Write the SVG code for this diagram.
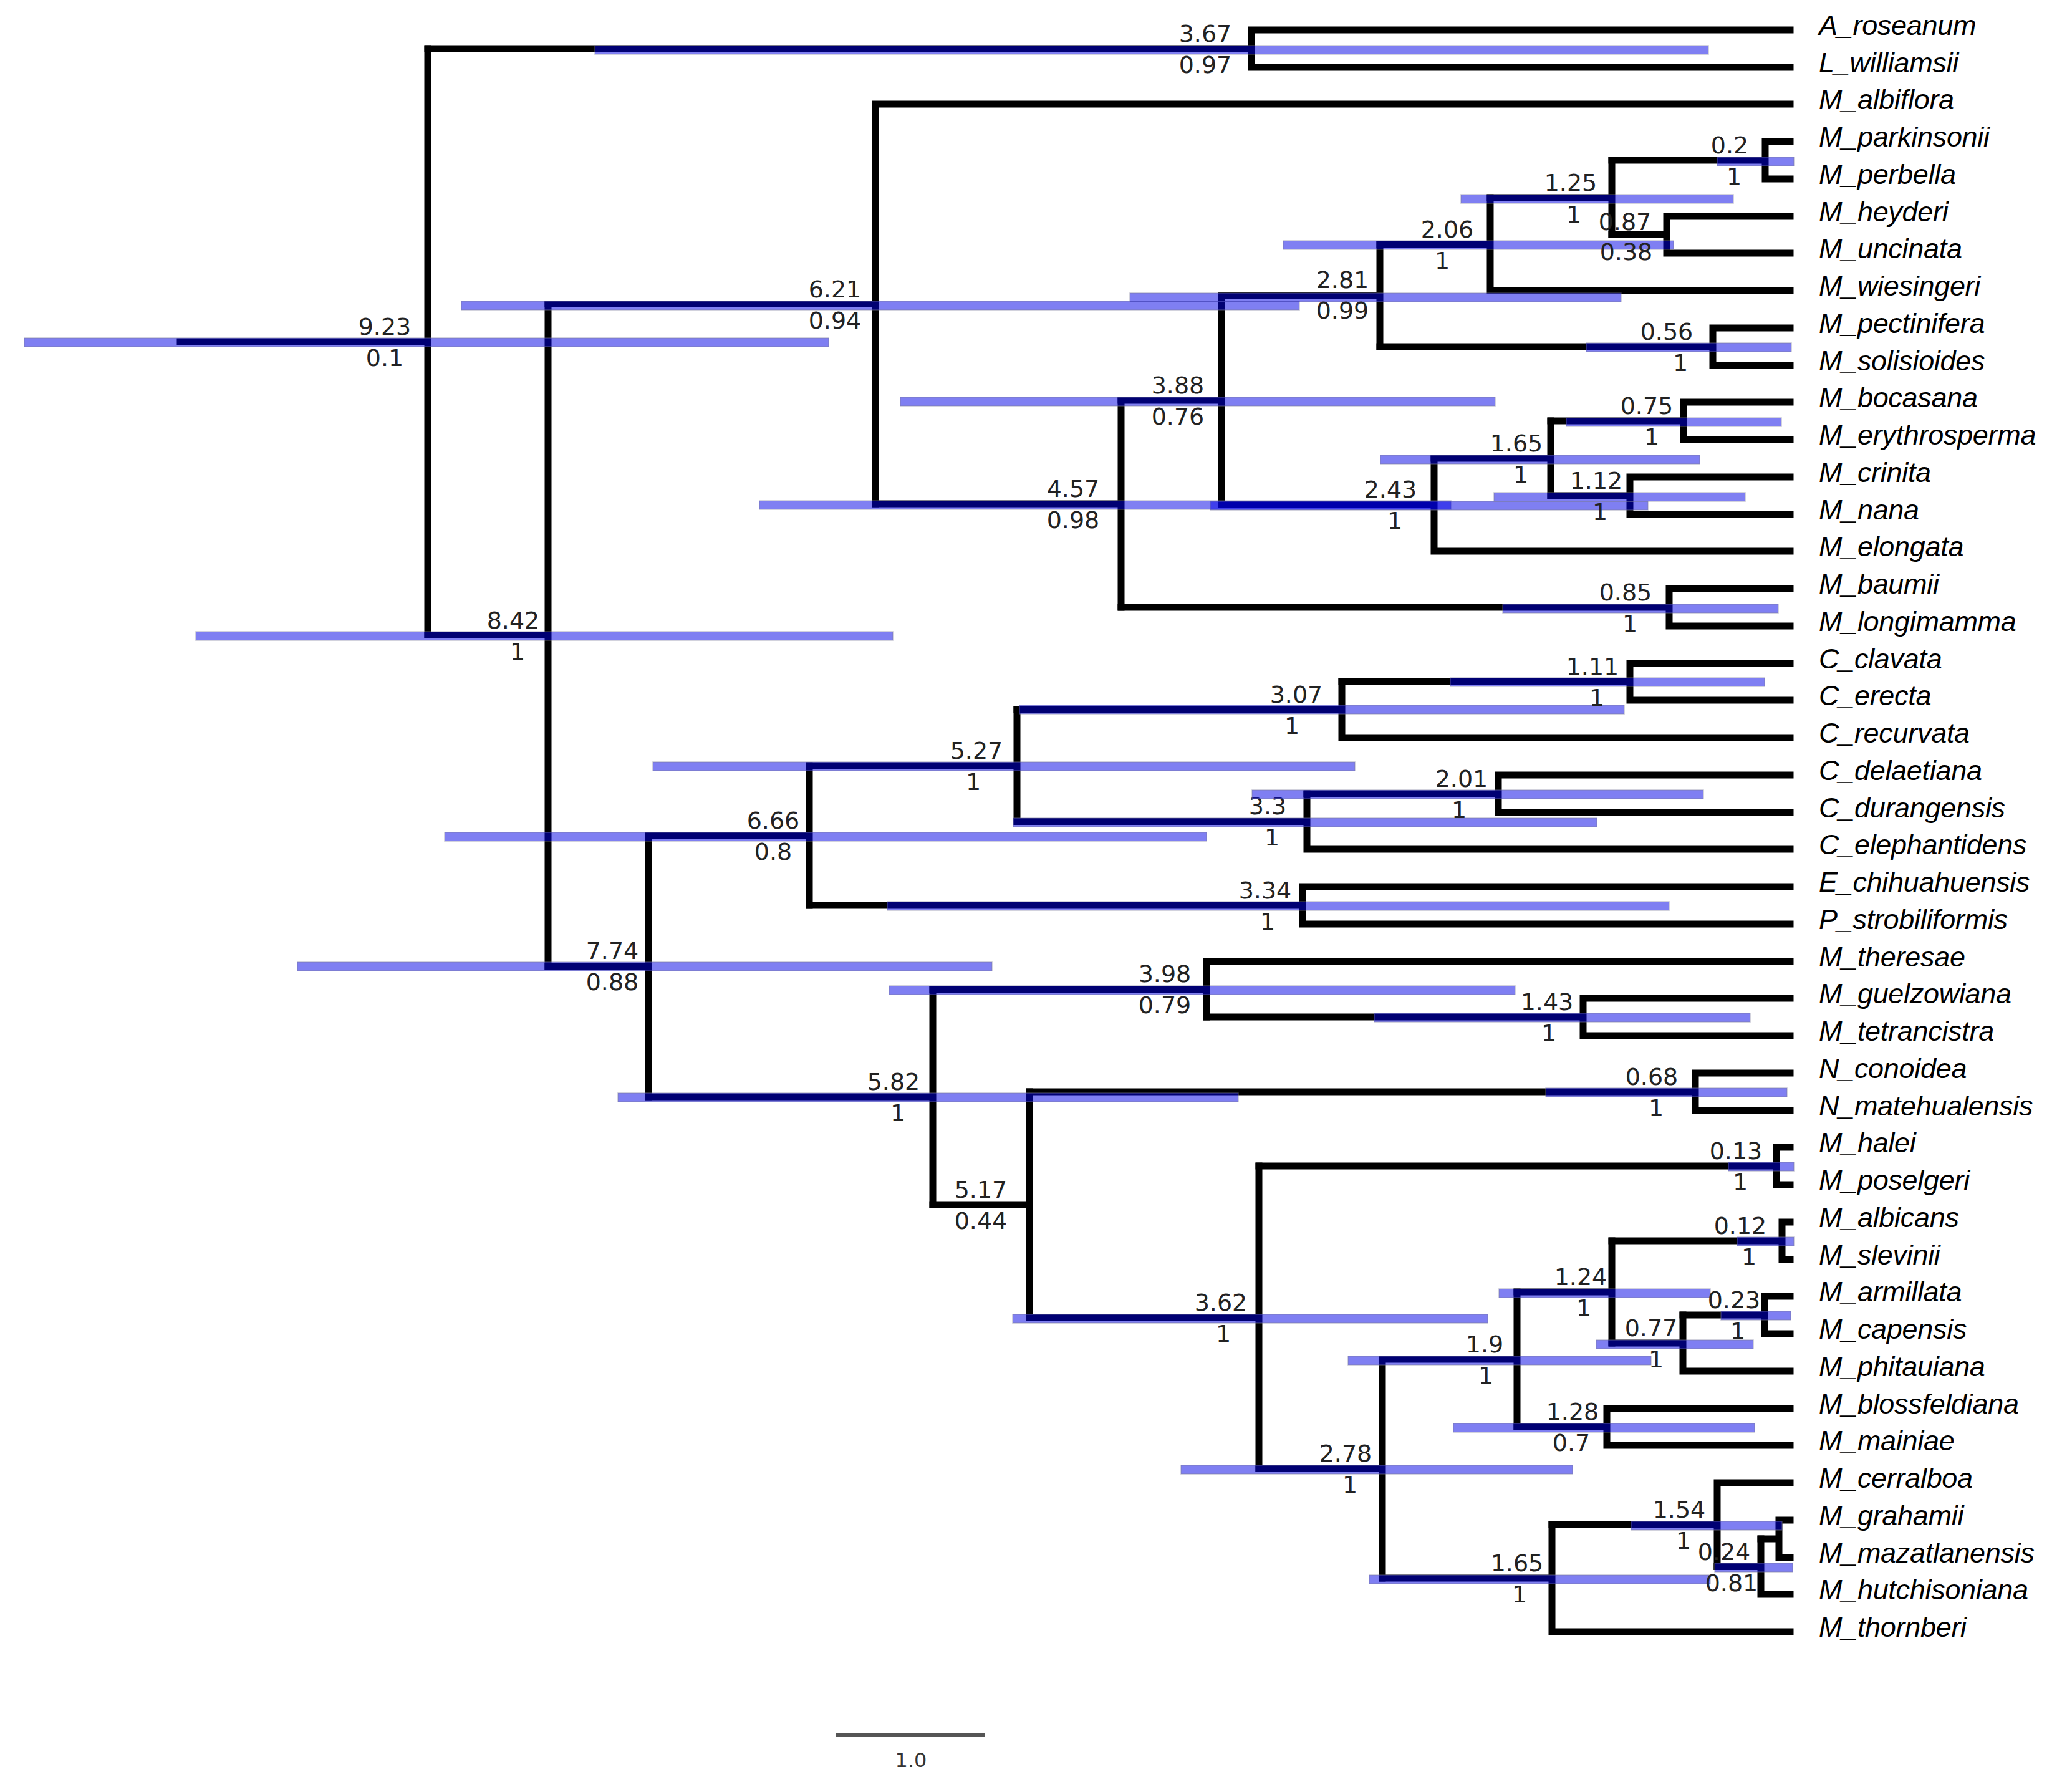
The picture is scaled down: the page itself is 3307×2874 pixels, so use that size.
<svg xmlns="http://www.w3.org/2000/svg" width="3307" height="2874" viewBox="0 0 3307 2874">
<style>
.br{stroke:#000;stroke-width:11;fill:none;stroke-linecap:square}
.hpd{fill:#0000e6;fill-opacity:0.5;stroke:#7a7a9a;stroke-opacity:0.45;stroke-width:1.5}
.tip{font-family:"Liberation Sans",Arial,sans-serif;font-style:italic;font-size:45px;letter-spacing:-0.3px;fill:#000}
.nl{font-family:"DejaVu Sans",Verdana,sans-serif;font-size:38px;fill:#222;text-anchor:middle}
.sc{stroke:#555;stroke-width:6}
.sct{font-family:"DejaVu Sans",Verdana,sans-serif;font-size:32px;fill:#333;text-anchor:middle}
</style>
<rect width="3307" height="2874" fill="#fff"/>
<g id="connectors" class="br">
<path d="M289,548H686M686,78V1018.5"/>
<path d="M686,78H2007M2007,48V108M2007,48H2871M2007,108H2871"/>
<path d="M686,1018.5H879M879,487.5V1549.5"/>
<path d="M879,487.5H1404M1404,167V808M1404,167H2871"/>
<path d="M1404,808H1798M1798,642V974"/>
<path d="M1798,642H1959M1959,474V809.5"/>
<path d="M1959,474H2213M2213,391.5V556"/>
<path d="M2213,391.5H2390M2390,317V466M2390,466H2871"/>
<path d="M2390,317H2585M2585,257V376.5"/>
<path d="M2585,257H2831M2831,227V287M2831,227H2871M2831,287H2871"/>
<path d="M2585,376.5H2673M2673,347V406M2673,347H2871M2673,406H2871"/>
<path d="M2213,556H2747M2747,526V586M2747,526H2871M2747,586H2871"/>
<path d="M1959,809.5H2300M2300,735V884M2300,884H2871"/>
<path d="M2300,735H2487M2487,675V795"/>
<path d="M2487,675H2700M2700,645V705M2700,645H2871M2700,705H2871"/>
<path d="M2487,795H2614M2614,765V825M2614,765H2871M2614,825H2871"/>
<path d="M1798,974H2677M2677,944V1004M2677,944H2871M2677,1004H2871"/>
<path d="M879,1549.5H1040M1040,1340V1759"/>
<path d="M1040,1340H1298M1298,1228V1452"/>
<path d="M1298,1228H1631M1631,1138V1317.5"/>
<path d="M1631,1138H2152M2152,1093.5V1183M2152,1183H2871"/>
<path d="M2152,1093.5H2614M2614,1064V1123M2614,1064H2871M2614,1123H2871"/>
<path d="M1631,1317.5H2096M2096,1273V1362M2096,1362H2871"/>
<path d="M2096,1273H2403M2403,1243V1303M2403,1243H2871M2403,1303H2871"/>
<path d="M1298,1452H2089M2089,1422V1482M2089,1422H2871M2089,1482H2871"/>
<path d="M1040,1759H1496M1496,1586.5V1932"/>
<path d="M1496,1586.5H1935M1935,1542V1631M1935,1542H2871"/>
<path d="M1935,1631H2539M2539,1601V1661M2539,1601H2871M2539,1661H2871"/>
<path d="M1496,1932H1651M1651,1751V2113"/>
<path d="M1651,1751H2719M2719,1721V1781M2719,1721H2871M2719,1781H2871"/>
<path d="M1651,2113H2019M2019,1870V2355.5"/>
<path d="M2019,1870H2849M2849,1840V1900M2849,1840H2871M2849,1900H2871"/>
<path d="M2019,2355.5H2217M2217,2180V2531"/>
<path d="M2217,2180H2433M2433,2072V2288.5"/>
<path d="M2433,2072H2585M2585,1990V2154"/>
<path d="M2585,1990H2858M2858,1960V2020M2858,1960H2871M2858,2020H2871"/>
<path d="M2585,2154H2699M2699,2109V2199M2699,2199H2871"/>
<path d="M2699,2109H2830M2830,2079V2139M2830,2079H2871M2830,2139H2871"/>
<path d="M2433,2288.5H2577M2577,2259V2318M2577,2259H2871M2577,2318H2871"/>
<path d="M2217,2531H2489M2489,2445V2617M2489,2617H2871"/>
<path d="M2489,2445H2754M2754,2378V2512.5M2754,2378H2871"/>
<path d="M2754,2512.5H2824M2824,2468V2557M2824,2557H2871"/>
<path d="M2824,2468H2853M2853,2438V2498M2853,2438H2871M2853,2498H2871"/>
</g>
<g id="node-root"><rect class="hpd" x="39" y="542" width="1290" height="14"/><text class="nl" x="617" y="537">9.23</text><text class="nl" x="617" y="587">0.1</text></g>
<g id="node-AL"><rect class="hpd" x="954" y="73" width="1786" height="14"/><text class="nl" x="1933" y="67">3.67</text><text class="nl" x="1933" y="117">0.97</text></g>
<g id="node-842"><rect class="hpd" x="314" y="1013" width="1118" height="14"/><text class="nl" x="823" y="1008">8.42</text><text class="nl" x="830" y="1058">1</text></g>
<g id="node-621"><rect class="hpd" x="740" y="483" width="1344" height="14"/><text class="nl" x="1339" y="477">6.21</text><text class="nl" x="1339" y="527">0.94</text></g>
<g id="node-457"><rect class="hpd" x="1218" y="803" width="1109" height="14"/><text class="nl" x="1721" y="797">4.57</text><text class="nl" x="1721" y="847">0.98</text></g>
<g id="node-243"><rect class="hpd" x="1941" y="804" width="702" height="14"/><text class="nl" x="2230" y="798">2.43</text><text class="nl" x="2237" y="848">1</text></g>
<g id="node-388"><rect class="hpd" x="1444" y="637" width="954" height="14"/><text class="nl" x="1889" y="631">3.88</text><text class="nl" x="1889" y="681">0.76</text></g>
<g id="node-281"><rect class="hpd" x="1812" y="470" width="788" height="14"/><text class="nl" x="2153" y="462">2.81</text><text class="nl" x="2153" y="511">0.99</text></g>
<g id="node-206"><rect class="hpd" x="2058" y="386" width="626" height="14"/><text class="nl" x="2321" y="381">2.06</text><text class="nl" x="2313" y="431">1</text></g>
<g id="node-125"><rect class="hpd" x="2343" y="312" width="437" height="14"/><text class="nl" x="2519" y="306">1.25</text><text class="nl" x="2524" y="357">1</text></g>
<g id="node-02"><rect class="hpd" x="2754" y="252" width="123" height="14"/><text class="nl" x="2774" y="246">0.2</text><text class="nl" x="2781" y="296">1</text></g>
<g id="node-087"><text class="nl" x="2606" y="369">0.87</text><text class="nl" x="2608" y="417">0.38</text></g>
<g id="node-056"><rect class="hpd" x="2544" y="550" width="329" height="14"/><text class="nl" x="2673" y="545">0.56</text><text class="nl" x="2695" y="595">1</text></g>
<g id="node-165a"><rect class="hpd" x="2214" y="730" width="512" height="14"/><text class="nl" x="2432" y="724">1.65</text><text class="nl" x="2439" y="774">1</text></g>
<g id="node-075"><rect class="hpd" x="2512" y="670" width="345" height="14"/><text class="nl" x="2641" y="664">0.75</text><text class="nl" x="2649" y="714">1</text></g>
<g id="node-112"><rect class="hpd" x="2396" y="790" width="403" height="14"/><text class="nl" x="2560" y="784">1.12</text><text class="nl" x="2566" y="834">1</text></g>
<g id="node-085"><rect class="hpd" x="2410" y="969" width="442" height="14"/><text class="nl" x="2607" y="963">0.85</text><text class="nl" x="2614" y="1013">1</text></g>
<g id="node-774"><rect class="hpd" x="477" y="1543" width="1114" height="14"/><text class="nl" x="982" y="1538">7.74</text><text class="nl" x="982" y="1588">0.88</text></g>
<g id="node-666"><rect class="hpd" x="713" y="1335" width="1222" height="14"/><text class="nl" x="1240" y="1329">6.66</text><text class="nl" x="1240" y="1379">0.8</text></g>
<g id="node-527"><rect class="hpd" x="1047" y="1222" width="1126" height="14"/><text class="nl" x="1566" y="1217">5.27</text><text class="nl" x="1561" y="1267">1</text></g>
<g id="node-307"><rect class="hpd" x="1635" y="1131" width="970" height="14"/><text class="nl" x="2079" y="1127">3.07</text><text class="nl" x="2072" y="1177">1</text></g>
<g id="node-111"><rect class="hpd" x="2326" y="1087" width="504" height="14"/><text class="nl" x="2554" y="1082">1.11</text><text class="nl" x="2561" y="1132">1</text></g>
<g id="node-33"><rect class="hpd" x="1625" y="1312" width="936" height="14"/><text class="nl" x="2033" y="1306">3.3</text><text class="nl" x="2040" y="1356">1</text></g>
<g id="node-201"><rect class="hpd" x="2008" y="1267" width="724" height="14"/><text class="nl" x="2344" y="1262">2.01</text><text class="nl" x="2340" y="1312">1</text></g>
<g id="node-334"><rect class="hpd" x="1423" y="1446" width="1254" height="14"/><text class="nl" x="2029" y="1441">3.34</text><text class="nl" x="2033" y="1491">1</text></g>
<g id="node-582"><rect class="hpd" x="991" y="1753" width="995" height="14"/><text class="nl" x="1433" y="1748">5.82</text><text class="nl" x="1440" y="1798">1</text></g>
<g id="node-398"><rect class="hpd" x="1426" y="1581" width="1004" height="14"/><text class="nl" x="1868" y="1575">3.98</text><text class="nl" x="1868" y="1625">0.79</text></g>
<g id="node-143"><rect class="hpd" x="2204" y="1625" width="603" height="14"/><text class="nl" x="2481" y="1620">1.43</text><text class="nl" x="2484" y="1670">1</text></g>
<g id="node-517"><text class="nl" x="1573" y="1921">5.17</text><text class="nl" x="1573" y="1971">0.44</text></g>
<g id="node-068"><rect class="hpd" x="2479" y="1745" width="387" height="14"/><text class="nl" x="2649" y="1740">0.68</text><text class="nl" x="2656" y="1790">1</text></g>
<g id="node-362"><rect class="hpd" x="1624" y="2108" width="762" height="14"/><text class="nl" x="1958" y="2102">3.62</text><text class="nl" x="1962" y="2152">1</text></g>
<g id="node-013"><rect class="hpd" x="2772" y="1864" width="105" height="14"/><text class="nl" x="2784" y="1859">0.13</text><text class="nl" x="2791" y="1909">1</text></g>
<g id="node-278"><rect class="hpd" x="1894" y="2350" width="628" height="14"/><text class="nl" x="2158" y="2344">2.78</text><text class="nl" x="2165" y="2394">1</text></g>
<g id="node-19"><rect class="hpd" x="2162" y="2175" width="486" height="14"/><text class="nl" x="2381" y="2169">1.9</text><text class="nl" x="2383" y="2219">1</text></g>
<g id="node-124"><rect class="hpd" x="2404" y="2067" width="339" height="14"/><text class="nl" x="2535" y="2061">1.24</text><text class="nl" x="2540" y="2111">1</text></g>
<g id="node-012"><rect class="hpd" x="2786" y="1984" width="91" height="14"/><text class="nl" x="2791" y="1979">0.12</text><text class="nl" x="2805" y="2029">1</text></g>
<g id="node-077"><rect class="hpd" x="2560" y="2149" width="252" height="14"/><text class="nl" x="2648" y="2143">0.77</text><text class="nl" x="2656" y="2193">1</text></g>
<g id="node-023"><rect class="hpd" x="2760" y="2103" width="112" height="14"/><text class="nl" x="2781" y="2098">0.23</text><text class="nl" x="2787" y="2148">1</text></g>
<g id="node-128"><rect class="hpd" x="2331" y="2283" width="483" height="14"/><text class="nl" x="2522" y="2277">1.28</text><text class="nl" x="2520" y="2327">0.7</text></g>
<g id="node-165b"><rect class="hpd" x="2196" y="2526" width="547" height="14"/><text class="nl" x="2433" y="2520">1.65</text><text class="nl" x="2437" y="2570">1</text></g>
<g id="node-154"><rect class="hpd" x="2616" y="2440" width="242" height="14"/><text class="nl" x="2693" y="2434">1.54</text><text class="nl" x="2700" y="2484">1</text></g>
<g id="node-024"><rect class="hpd" x="2750" y="2507" width="125" height="14"/><text class="nl" x="2765" y="2502">0.24</text><text class="nl" x="2777" y="2552">0.81</text></g>
<g id="tips" class="tip">
<g id="tip-A_roseanum"><text x="2917" y="56">A_roseanum</text></g>
<g id="tip-L_williamsii"><text x="2917" y="116">L_williamsii</text></g>
<g id="tip-M_albiflora"><text x="2917" y="175">M_albiflora</text></g>
<g id="tip-M_parkinsonii"><text x="2917" y="235">M_parkinsonii</text></g>
<g id="tip-M_perbella"><text x="2917" y="295">M_perbella</text></g>
<g id="tip-M_heyderi"><text x="2917" y="355">M_heyderi</text></g>
<g id="tip-M_uncinata"><text x="2917" y="414">M_uncinata</text></g>
<g id="tip-M_wiesingeri"><text x="2917" y="474">M_wiesingeri</text></g>
<g id="tip-M_pectinifera"><text x="2917" y="534">M_pectinifera</text></g>
<g id="tip-M_solisioides"><text x="2917" y="594">M_solisioides</text></g>
<g id="tip-M_bocasana"><text x="2917" y="653">M_bocasana</text></g>
<g id="tip-M_erythrosperma"><text x="2917" y="713">M_erythrosperma</text></g>
<g id="tip-M_crinita"><text x="2917" y="773">M_crinita</text></g>
<g id="tip-M_nana"><text x="2917" y="833">M_nana</text></g>
<g id="tip-M_elongata"><text x="2917" y="892">M_elongata</text></g>
<g id="tip-M_baumii"><text x="2917" y="952">M_baumii</text></g>
<g id="tip-M_longimamma"><text x="2917" y="1012">M_longimamma</text></g>
<g id="tip-C_clavata"><text x="2917" y="1072">C_clavata</text></g>
<g id="tip-C_erecta"><text x="2917" y="1131">C_erecta</text></g>
<g id="tip-C_recurvata"><text x="2917" y="1191">C_recurvata</text></g>
<g id="tip-C_delaetiana"><text x="2917" y="1251">C_delaetiana</text></g>
<g id="tip-C_durangensis"><text x="2917" y="1311">C_durangensis</text></g>
<g id="tip-C_elephantidens"><text x="2917" y="1370">C_elephantidens</text></g>
<g id="tip-E_chihuahuensis"><text x="2917" y="1430">E_chihuahuensis</text></g>
<g id="tip-P_strobiliformis"><text x="2917" y="1490">P_strobiliformis</text></g>
<g id="tip-M_theresae"><text x="2917" y="1550">M_theresae</text></g>
<g id="tip-M_guelzowiana"><text x="2917" y="1609">M_guelzowiana</text></g>
<g id="tip-M_tetrancistra"><text x="2917" y="1669">M_tetrancistra</text></g>
<g id="tip-N_conoidea"><text x="2917" y="1729">N_conoidea</text></g>
<g id="tip-N_matehualensis"><text x="2917" y="1789">N_matehualensis</text></g>
<g id="tip-M_halei"><text x="2917" y="1848">M_halei</text></g>
<g id="tip-M_poselgeri"><text x="2917" y="1908">M_poselgeri</text></g>
<g id="tip-M_albicans"><text x="2917" y="1968">M_albicans</text></g>
<g id="tip-M_slevinii"><text x="2917" y="2028">M_slevinii</text></g>
<g id="tip-M_armillata"><text x="2917" y="2087">M_armillata</text></g>
<g id="tip-M_capensis"><text x="2917" y="2147">M_capensis</text></g>
<g id="tip-M_phitauiana"><text x="2917" y="2207">M_phitauiana</text></g>
<g id="tip-M_blossfeldiana"><text x="2917" y="2267">M_blossfeldiana</text></g>
<g id="tip-M_mainiae"><text x="2917" y="2326">M_mainiae</text></g>
<g id="tip-M_cerralboa"><text x="2917" y="2386">M_cerralboa</text></g>
<g id="tip-M_grahamii"><text x="2917" y="2446">M_grahamii</text></g>
<g id="tip-M_mazatlanensis"><text x="2917" y="2506">M_mazatlanensis</text></g>
<g id="tip-M_hutchisoniana"><text x="2917" y="2565">M_hutchisoniana</text></g>
<g id="tip-M_thornberi"><text x="2917" y="2625">M_thornberi</text></g>
</g>
<g id="scale-bar"><line class="sc" x1="1340" y1="2783" x2="1579" y2="2783"/><text class="sct" x="1461" y="2834">1.0</text></g>
</svg>
